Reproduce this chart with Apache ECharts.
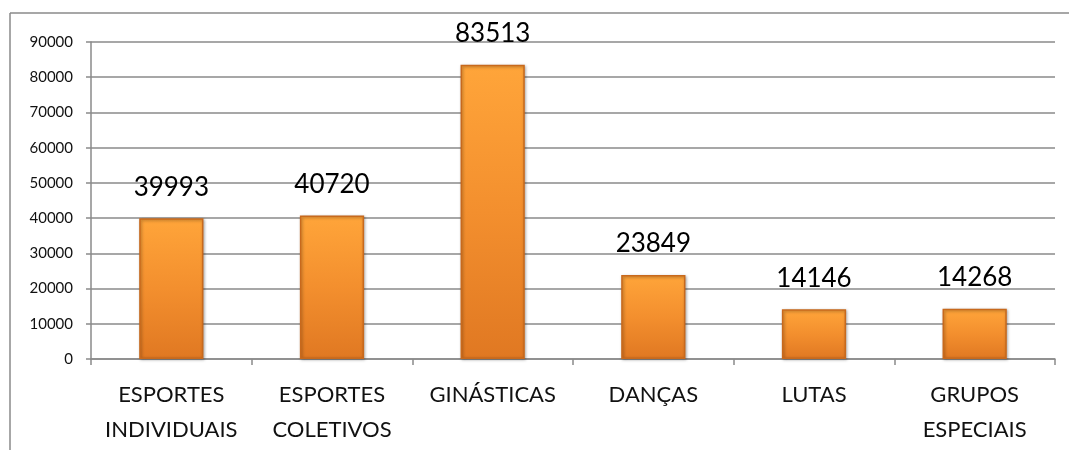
<!DOCTYPE html>
<html>
<head>
<meta charset="utf-8">
<script src="https://cdn.jsdelivr.net/npm/echarts@6/dist/echarts.min.js"></script>
<style>
  html, body { margin: 0; padding: 0; background: #fff; }
  #chart { width: 1069px; height: 450px; }
</style>
</head>
<body>
<div id="chart"></div>
<script>
// dados do gráfico
const categorias = ['ESPORTES\nINDIVIDUAIS', 'ESPORTES\nCOLETIVOS', 'GINÁSTICAS', 'DANÇAS', 'LUTAS', 'GRUPOS\nESPECIAIS'];
const valores = [39993, 40720, 83513, 23849, 14146, 14268];
const eixoY = { min: 0, max: 90000, passo: 10000 };

const chart = echarts.init(document.getElementById('chart'));
const fonte = 'Lato, "Open Sans", sans-serif';

chart.setOption({
  animation: false,
  textStyle: { fontFamily: fonte },
  // moldura (só topo e esquerda aparecem no recorte)
  graphic: [
    { type: 'line', shape: { x1: 10, y1: 13, x2: 1069, y2: 13 }, style: { stroke: '#8a8a8a', lineWidth: 1.5 } },
    { type: 'line', shape: { x1: 10, y1: 13, x2: 10, y2: 450 }, style: { stroke: '#8a8a8a', lineWidth: 1.5 } }
  ],
  grid: { left: 91, right: 14, top: 42, bottom: 91 },
  xAxis: {
    type: 'category',
    data: categorias,
    axisLine: { lineStyle: { color: '#8a8a8a', width: 1.5 } },
    axisTick: { show: true, length: 6, lineStyle: { color: '#8a8a8a', width: 1.5 } },
    axisLabel: { color: '#111', fontSize: 22, lineHeight: 35, margin: 18, interval: 0, fontFamily: fonte }
  },
  yAxis: {
    type: 'value',
    min: eixoY.min,
    max: eixoY.max,
    interval: eixoY.passo,
    axisLine: { show: true, lineStyle: { color: '#8a8a8a', width: 1.5 } },
    axisTick: { show: true, length: 5, lineStyle: { color: '#8a8a8a', width: 1.5 } },
    axisLabel: { color: '#111', fontSize: 15, margin: 18, fontFamily: fonte, formatter: v => String(v) },
    splitLine: { lineStyle: { color: '#8a8a8a', width: 1.5 } }
  },
  series: [{
    type: 'bar',
    data: valores,
    barWidth: '40%',
    itemStyle: {
      color: new echarts.graphic.LinearGradient(0, 0, 0, 1, [
        { offset: 0, color: '#ffa53a' },
        { offset: 0.5, color: '#f38f2e' },
        { offset: 1, color: '#e07822' }
      ]),
      borderColor: '#c8691c',
      borderWidth: 1.5,
      shadowColor: 'rgba(0,0,0,0.35)',
      shadowBlur: 3,
      shadowOffsetX: 1,
      shadowOffsetY: 1
    },
    label: {
      show: true,
      position: 'top',
      distance: 18,
      color: '#000',
      fontSize: 26,
      fontFamily: fonte
    }
  }]
});
</script>
</body>
</html>
